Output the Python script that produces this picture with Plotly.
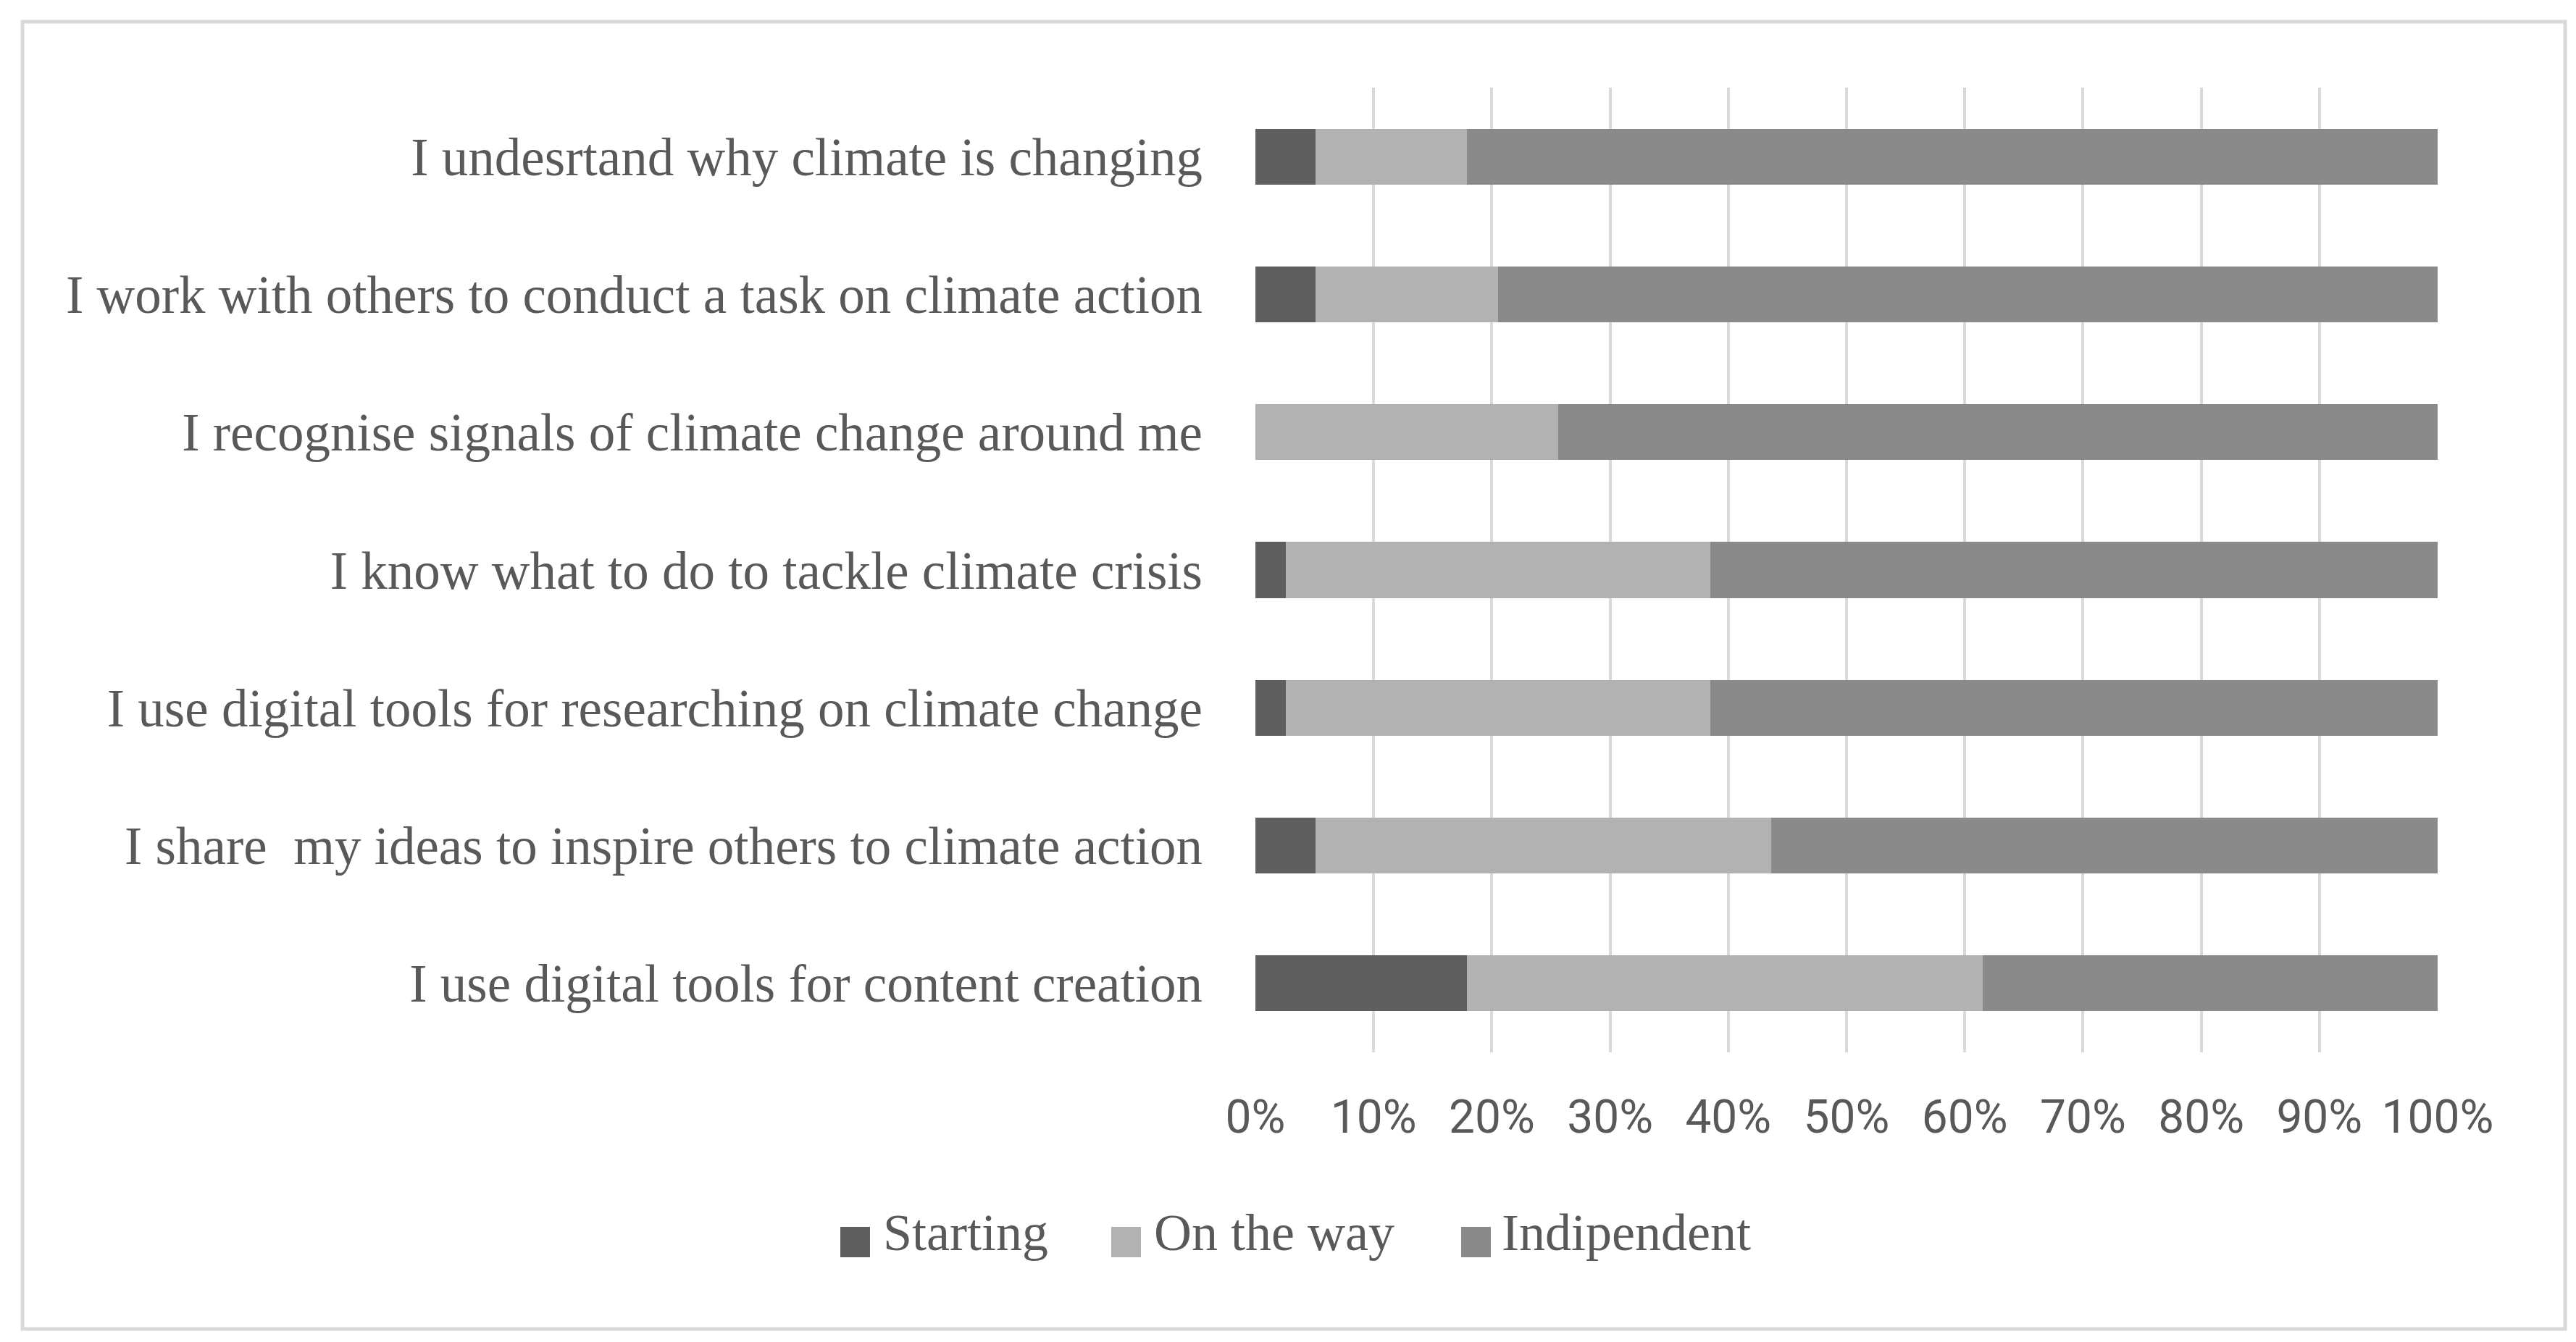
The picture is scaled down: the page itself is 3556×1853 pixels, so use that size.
import plotly.graph_objects as go

categories = [
    "I undesrtand why climate is changing",
    "I work with others to conduct a task on climate action",
    "I recognise signals of climate change around me",
    "I know what to do to tackle climate crisis",
    "I use digital tools for researching on climate change",
    "I share  my ideas to inspire others to climate action",
    "I use digital tools for content creation",
]
starting = [5.1, 5.1, 0.0, 2.6, 2.6, 5.1, 17.9]
on_the_way = [12.8, 15.4, 25.6, 35.9, 35.9, 38.5, 43.6]
indipendent = [82.1, 79.5, 74.4, 61.5, 61.5, 56.4, 38.5]
x_ticks = [0, 10, 20, 30, 40, 50, 60, 70, 80, 90, 100]
x_tick_labels = ["0%", "10%", "20%", "30%", "40%", "50%", "60%", "70%", "80%", "90%", "100%"]
series_names = ["Starting", "On the way", "Indipendent"]
colors = ["#5f5f5f", "#b2b2b2", "#8a8a8a"]

W, H = 3556, 1853
ML, MR, MT, MB = 1725, 199, 113, 408
PW = W - ML - MR
PH = H - MT - MB


def fx(px):
    return (px - ML) / PW


def fy(py):
    return (H - MB - py) / PH


TEXT = "#595959"
SERIF = "Liberation Serif"

fig = go.Figure()
for name, vals, col in zip(series_names, [starting, on_the_way, indipendent], colors):
    fig.add_trace(go.Bar(
        y=categories, x=vals, name=name, orientation="h",
        marker=dict(color=col, line=dict(width=0)),
        showlegend=False,
    ))

fig.update_layout(
    width=W, height=H,
    margin=dict(l=ML, r=MR, t=MT, b=MB, autoexpand=False),
    paper_bgcolor="white", plot_bgcolor="white",
    barmode="stack", bargap=0.595,
    xaxis=dict(
        range=[0, 100], tickvals=x_ticks, ticktext=x_tick_labels,
        showgrid=True, gridcolor="#d9d9d9", gridwidth=4,
        zeroline=False, showline=False,
        tickfont=dict(family="Roboto", size=64, color=TEXT),
        ticklabelstandoff=46,
    ),
    yaxis=dict(
        categoryorder="array", categoryarray=categories,
        autorange="reversed", showgrid=False, zeroline=False, showline=False,
        tickfont=dict(family=SERIF, size=73, color=TEXT),
        ticklabelstandoff=72,
    ),
)

shapes = [dict(
    type="rect", xref="paper", yref="paper",
    x0=fx(23), x1=fx(3533), y0=fy(22), y1=fy(1827),
    line=dict(color="#d9d9d9", width=5), fillcolor="rgba(0,0,0,0)", layer="below",
)]
annotations = []
legend_sq = [1152, 1526, 2009]
legend_tx = [1209, 1583, 2063]
for name, col, sx, tx in zip(series_names, colors, legend_sq, legend_tx):
    shapes.append(dict(
        type="rect", xref="paper", yref="paper",
        x0=fx(sx), x1=fx(sx + 41), y0=fy(1728), y1=fy(1686),
        line=dict(width=0), fillcolor=col,
    ))
    annotations.append(dict(
        xref="paper", yref="paper", x=fx(tx), y=fy(1694),
        xanchor="left", yanchor="middle", showarrow=False,
        text=name, font=dict(family=SERIF, size=72, color=TEXT),
    ))
fig.update_layout(shapes=shapes, annotations=annotations)

fig.write_html("out.html")
